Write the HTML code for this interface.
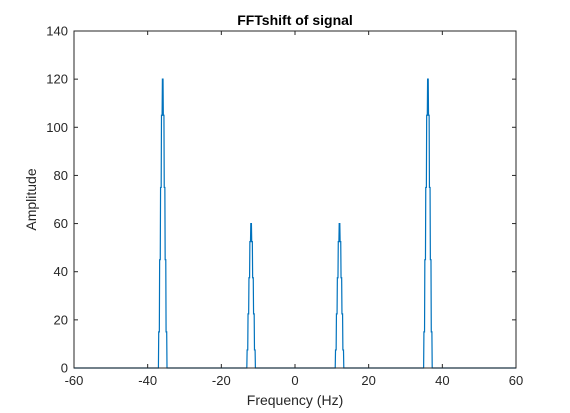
<!DOCTYPE html>
<html><head><meta charset="utf-8"><style>
body{margin:0;background:#fff;}
svg{display:block;font-family:"Liberation Sans","DejaVu Sans",sans-serif;}
</style></head><body>
<svg id="chart" width="570" height="413" viewBox="0 0 570 413"></svg>
<script>
const xTicks=[-60,-40,-20,0,20,40,60];
const yTicks=[0,20,40,60,80,100,120,140];
const peakCenters=[-36,-12,12,36];
const peakHeights=[120,60,60,120];
const peakOffsets=[-1.25,-1,-0.75,-0.5,-0.25,0,0.25,0.5,0.75,1,1.25];
const peakShape=[0,0.125,0.375,0.625,0.875,1,0.875,0.625,0.375,0.125,0];
const titleText="FFTshift of signal";
const xLabelText="Frequency (Hz)";
const yLabelText="Amplitude";

const svg=document.getElementById('chart');
const NS="http://www.w3.org/2000/svg";
const L=74,R=516,T=31,B=368;
const xs=v=>L+(v-(-60))/120*(R-L);
const ys=v=>B-v/140*(B-T);
function mk(tag,attrs,txt){const e=document.createElementNS(NS,tag);for(const k in attrs)e.setAttribute(k,attrs[k]);if(txt!==undefined)e.textContent=txt;svg.appendChild(e);return e;}

let bg=mk('rect',{x:L,y:T,width:R-L,height:B-T,fill:'#fff'});



let pts=[[-60,0]];
peakCenters.forEach((c,i)=>{peakOffsets.forEach((o,j)=>pts.push([c+o,peakHeights[i]*peakShape[j]]));});
pts.push([60,0]);
// step-like rendering: vertical jump at each sample, short hold
let d='';
pts.forEach((p,k)=>{
  const x=xs(p[0]),y=ys(p[1]);
  if(k===0){d+='M'+x.toFixed(2)+','+y.toFixed(2);return;}
  const py=ys(pts[k-1][1]);
  const px=xs(pts[k-1][0]);
  const hx=Math.max(px,x-0.3);
  d+=' L'+hx.toFixed(2)+','+py.toFixed(2)+' L'+x.toFixed(2)+','+y.toFixed(2);
});
let line=mk('path',{d:d,fill:'none',stroke:'#0072bd','stroke-width':1.2});



let box=mk('rect',{x:L,y:T,width:R-L,height:B-T,fill:'none',stroke:'#262626','stroke-width':1});



xTicks.forEach(v=>{
  const x=xs(v);
  mk('line',{x1:x,y1:B,x2:x,y2:B-4,stroke:'#262626'});
  mk('line',{x1:x,y1:T,x2:x,y2:T+4,stroke:'#262626'});
  let t=mk('text',{x:x,y:B+17,'text-anchor':'middle','font-size':13,fill:'#262626'},String(v));
  
  
});
yTicks.forEach(v=>{
  const y=ys(v);
  mk('line',{x1:L,y1:y,x2:L+4,y2:y,stroke:'#262626'});
  mk('line',{x1:R,y1:y,x2:R-4,y2:y,stroke:'#262626'});
  let t=mk('text',{x:L-6,y:y+4.5,'text-anchor':'end','font-size':13,fill:'#262626'},String(v));
  
  
});
let tt=mk('text',{x:(L+R)/2,y:25,'text-anchor':'middle','font-size':14,'font-weight':'bold',fill:'#000'},titleText);


let xl=mk('text',{x:(L+R)/2,y:405,'text-anchor':'middle','font-size':14,fill:'#262626'},xLabelText);


let yl=mk('text',{x:0,y:0,'text-anchor':'middle','font-size':14,fill:'#262626',transform:'translate(36,'+((T+B)/2)+') rotate(-90)'},yLabelText);


</script>
</body></html>
